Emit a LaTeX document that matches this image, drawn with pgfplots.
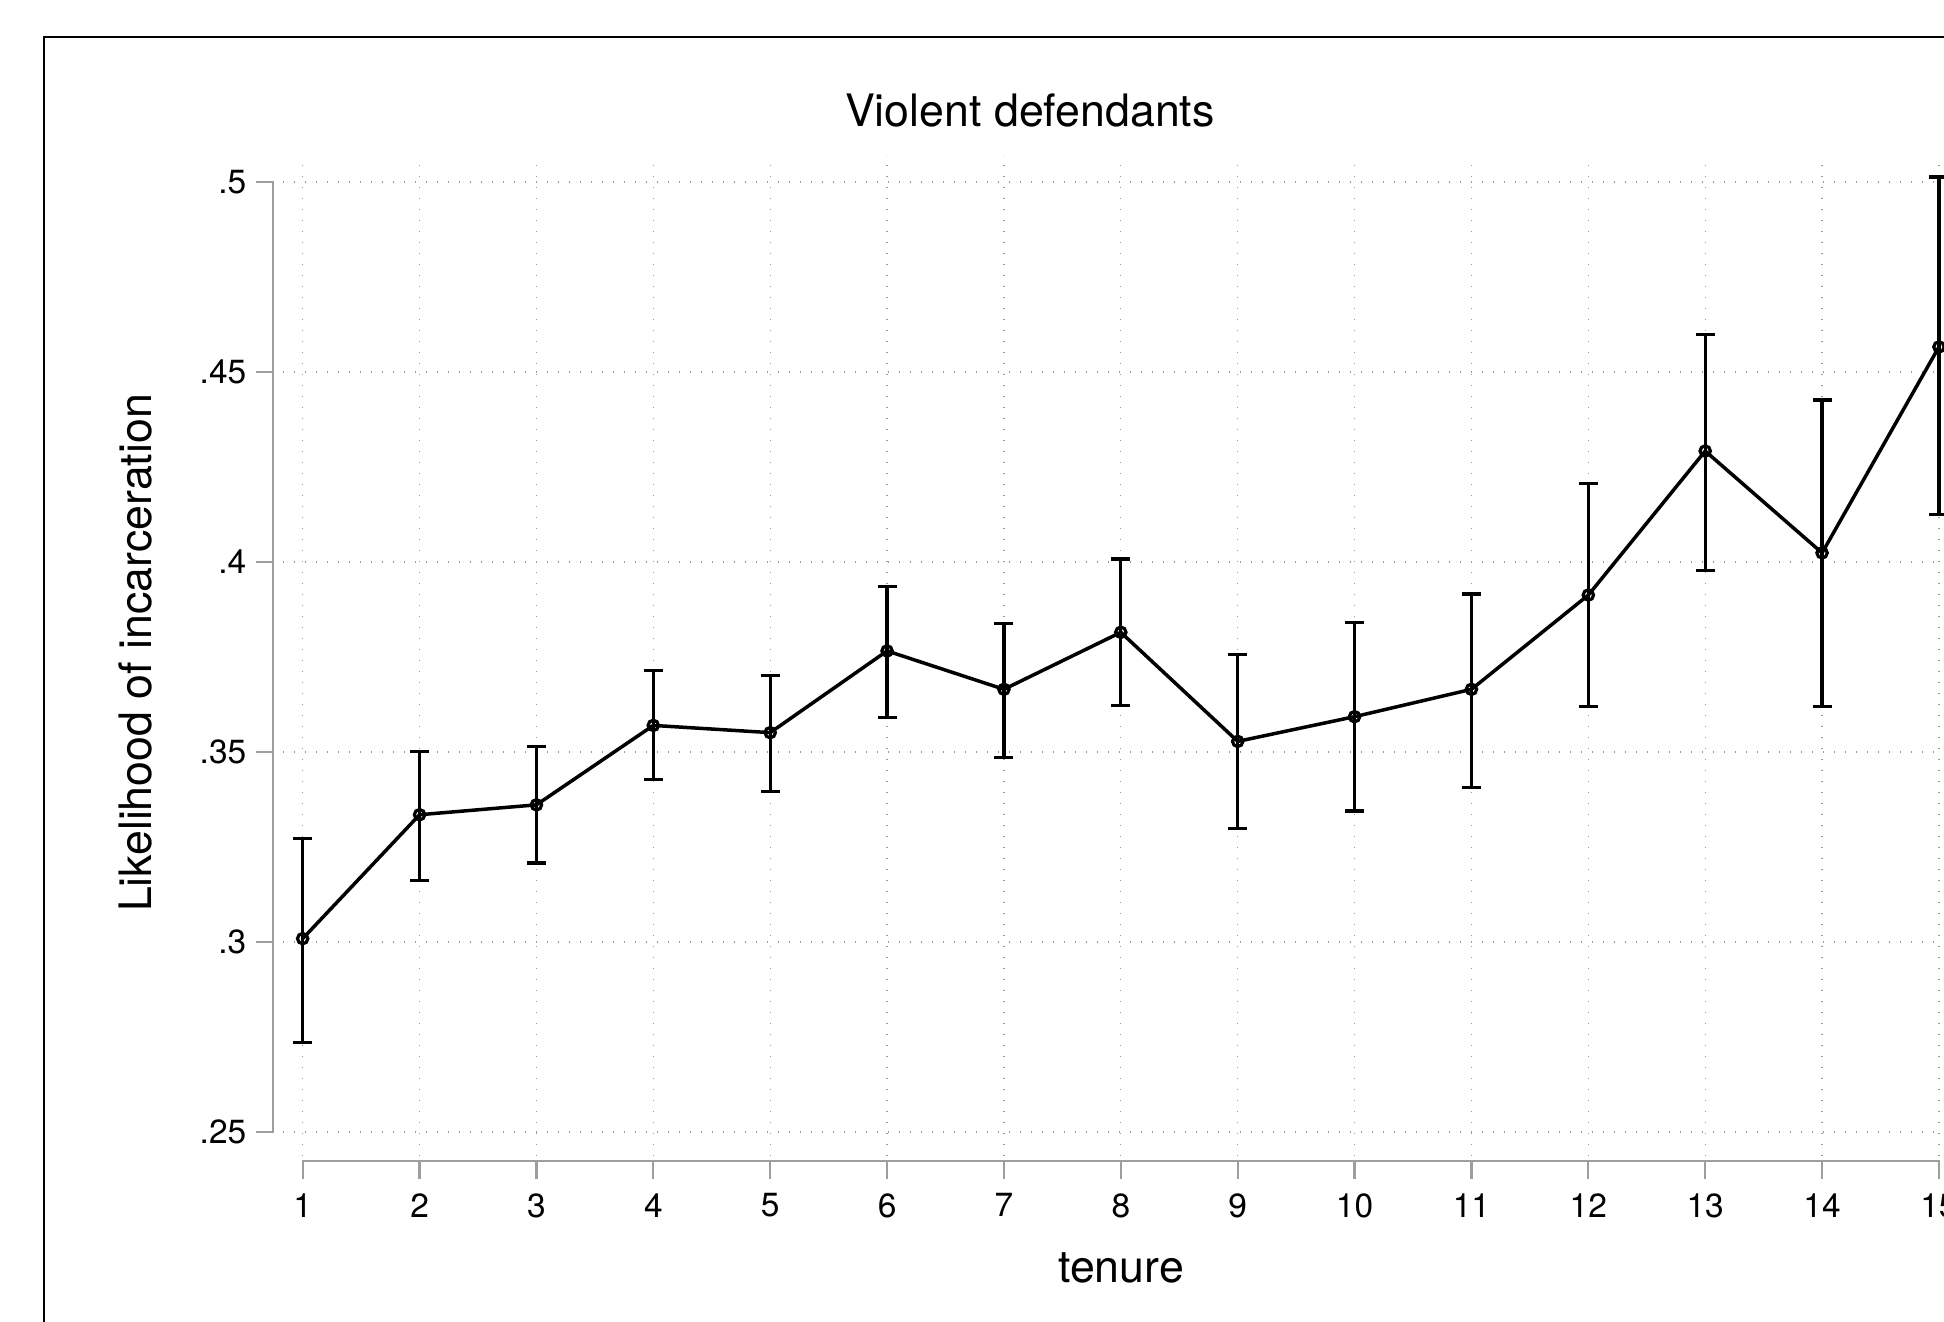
\documentclass[border=0pt]{standalone}
\usepackage{fontspec}
\setmainfont{TeX Gyre Heros}
\usepackage{pgfplots}
\pgfplotsset{compat=1.18}
\usepackage{pgfplotstable}

% tenure, point estimate, lower and upper CI
\pgfplotstableread{
x   y      lo     hi
1   0.3009 0.2735 0.3273
2   0.3335 0.3162 0.3502
3   0.3361 0.3208 0.3515
4   0.3570 0.3427 0.3714
5   0.3551 0.3397 0.3701
6   0.3766 0.3590 0.3936
7   0.3665 0.3485 0.3838
8   0.3815 0.3623 0.4008
9   0.3528 0.3299 0.3756
10  0.3593 0.3345 0.3841
11  0.3665 0.3407 0.3916
12  0.3913 0.3619 0.4207
13  0.4292 0.3978 0.4599
14  0.4024 0.3619 0.4426
15  0.4566 0.4125 0.5013
}\violent

\begin{document}
\begin{tikzpicture}
\useasboundingbox (0,0) rectangle (972bp,661bp);
\clip (0,0) rectangle (972bp,661bp);
% outer frame (cut off at right and bottom)
\draw[line width=1bp] (22bp,-20bp) |- (1100bp,642.5bp);
\begin{axis}[
    at={(141.5bp,83bp)}, anchor=south west,
    scale only axis, width=845.5bp, height=500.5bp,
    xmin=0.8315, xmax=15.3, ymin=0.2437, ymax=0.5071,
    axis line style={draw=none}, major tick length=0pt, clip=false,
    xtick={1,...,15},
    ytick={0.25,0.3,0.35,0.4,0.45,0.5},
    yticklabels={.25,.3,.35,.4,.45,.5},
    /pgf/number format/assume math mode=true,
    grid=major,
    major grid style={black!40, line width=0.6bp, dash pattern=on 0.6bp off 4.9bp},
    tick label style={font=\fontsize{16.75bp}{20bp}\selectfont},
    yticklabel style={anchor=east, inner sep=0pt, xshift=-18.15bp},
    xticklabel style={anchor=north, inner sep=0pt, yshift=-18.5bp},
    every axis title shift=0pt,
    title={Violent defendants},
    title style={at={(axis description cs:0.4417,1.0283)}, anchor=base,
      inner sep=0pt, font=\fontsize{22.35bp}{26bp}\selectfont},
    xlabel={tenure},
    xlabel style={at={(axis description cs:0.4956,-0.1259)}, anchor=base,
      inner sep=0pt, font=\fontsize{22.35bp}{26bp}\selectfont},
    ylabel={Likelihood of incarceration},
    ylabel style={at={(axis description cs:-0.0775,0.5025)}, anchor=base,
      inner sep=0pt, font=\fontsize{22.35bp}{26bp}\selectfont},
  ]
  % Stata style axis lines, set off from the plot region
  \draw[black!38, line width=1.1bp]
    (axis cs:0.6005,0.5) -- (axis cs:0.746,0.5) -- (axis cs:0.746,0.25) -- (axis cs:0.6005,0.25)
    (axis cs:0.6005,0.3) -- (axis cs:0.746,0.3)
    (axis cs:0.6005,0.35) -- (axis cs:0.746,0.35)
    (axis cs:0.6005,0.4) -- (axis cs:0.746,0.4)
    (axis cs:0.6005,0.45) -- (axis cs:0.746,0.45);
  \draw[black!38, line width=1.1bp]
    (axis cs:1,0.23771) -- (axis cs:1,0.24245) -- (axis cs:15,0.24245) -- (axis cs:15,0.23771);
  \pgfplotsinvokeforeach{2,...,14}{
    \draw[black!38, line width=1.1bp] (axis cs:#1,0.23771) -- (axis cs:#1,0.24245);
  }
  \addplot[black, line width=1.75bp, mark=o, mark size=2.6bp,
    mark options={line width=1.6bp},
    error bars/.cd, y dir=both, y explicit,
    error bar style={line width=1.65bp},
    error mark options={rotate=90, line width=1.65bp, mark size=4.75bp}]
    table[x=x, y=y, y error plus expr=\thisrow{hi}-\thisrow{y},
      y error minus expr=\thisrow{y}-\thisrow{lo}] {\violent};
\end{axis}
\end{tikzpicture}
\end{document}
